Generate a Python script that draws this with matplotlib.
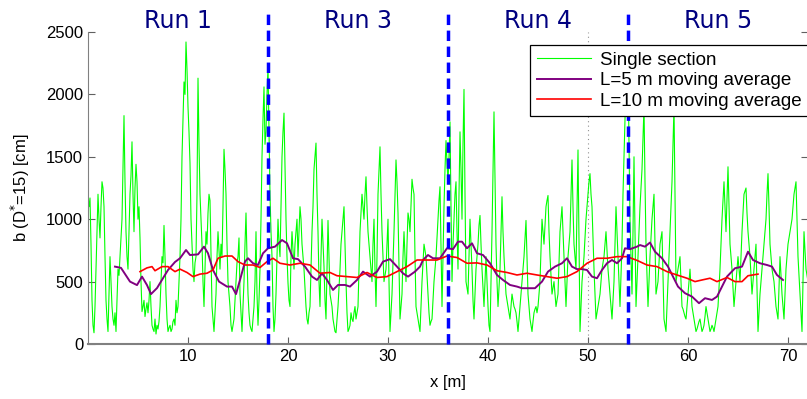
import numpy as np
import matplotlib
matplotlib.use("Agg")
import matplotlib.pyplot as plt

plt.rcParams['font.family'] = ['Liberation Sans', 'DejaVu Sans']

# single section width, read every 0.2 m from 0 to 72 m
b_single = [
    1150, 1170, 350, 90, 600,
    1200, 850, 1300, 1100, 350,
    100, 700, 300, 150, 100,
    600, 700, 1000, 1830, 900,
    600, 1200, 1620, 900, 1440,
    1000, 850, 260, 350, 280,
    250, 500, 150, 100, 80,
    120, 300, 700, 950, 400,
    100, 150, 120, 200, 350,
    300, 700, 1500, 2100, 2420,
    1900, 1450, 800, 500, 700,
    2130, 1200, 800, 300, 900,
    1050, 1150, 300, 100, 400,
    900, 600, 700, 1560, 1200,
    500, 300, 100, 200, 500,
    700, 400, 100, 500, 1050,
    400, 150, 100, 300, 900,
    150, 600, 1500, 2060, 1700,
    2220, 1200, 700, 100, 400,
    1000, 700, 1500, 1850, 1000,
    490, 300, 900, 600, 900,
    700, 1100, 800, 600, 300,
    160, 300, 900, 1400, 1610,
    900, 300, 1000, 620, 200,
    990, 400, 300, 150, 90,
    300, 600, 900, 1100, 500,
    100, 150, 200, 250, 200,
    300, 900, 1200, 1000, 1340,
    900, 700, 500, 1000, 300,
    1200, 1580, 900, 500, 600,
    1000, 100, 400, 900, 1475,
    1050, 200, 400, 900, 500,
    1050, 900, 1320, 1200, 300,
    200, 100, 500, 800, 700,
    400, 150, 200, 500, 700,
    1000, 1260, 300, 1100, 1630,
    1300, 1780, 500, 1000, 1300,
    600, 1700, 1000, 2040, 500,
    400, 1000, 600, 200, 600,
    800, 1030, 600, 300, 700,
    300, 100, 900, 1860, 800,
    300, 600, 1180, 700, 400,
    300, 200, 400, 300, 250,
    100, 300, 500, 700, 990,
    400, 200, 100, 250, 300,
    300, 500, 1000, 800, 1100,
    1190, 700, 400, 500, 300,
    400, 900, 1100, 700, 300,
    700, 900, 1475, 800, 600,
    1555, 100, 500, 700, 1000,
    1200, 1365, 1100, 600, 200,
    300, 400, 600, 700, 900,
    600, 400, 200, 500, 1100,
    700, 300, 800, 1500, 2100,
    2300, 1000, 400, 1500, 300,
    700, 1100, 1400, 1900, 800,
    300, 700, 1000, 1200, 400,
    500, 800, 900, 200, 100,
    500, 900, 1300, 1900, 500,
    600, 700, 300, 250, 200,
    400, 600, 300, 200, 100,
    150, 200, 100, 150, 300,
    200, 100, 150, 100, 200,
    300, 600, 1000, 1300, 900,
    1420, 800, 600, 300, 500,
    700, 500, 900, 1200, 1250,
    900, 700, 400, 600, 800,
    100, 400, 600, 800, 1000,
    1365, 800, 600, 500, 300,
    200, 700, 400, 200, 600,
    800, 900, 1000, 1200, 1300,
    700, 400, 100, 900, 600,
    500,
]

# values read in between, at 0.1, 0.3, 0.5, ... m
b_between = [
    1100, 800, 150, 300, 900,
    1000, 1100, 1250, 700, 200,
    400, 500, 200, 250, 350,
    550, 850, 1400, 1300, 700,
    900, 1350, 1200, 1250, 1300,
    1100, 500, 300, 220, 330,
    350, 300, 120, 200, 150,
    180, 500, 650, 700, 200,
    130, 100, 180, 150, 250,
    500, 1000, 1800, 2000, 2200,
    1700, 1000, 600, 650, 1200,
    1600, 1000, 500, 600, 800,
    1200, 700, 200, 250, 700,
    750, 800, 1100, 1400, 800,
    400, 150, 150, 350, 650,
    850, 250, 300, 800, 700,
    250, 120, 200, 500, 400,
    350, 1000, 1800, 1600, 2000,
    1700, 900, 300, 200, 700,
    800, 1100, 1700, 1400, 700,
    350, 700, 750, 800, 1000,
    900, 1000, 700, 450, 200,
    250, 600, 1100, 1500, 1200,
    500, 700, 800, 350, 600,
    700, 350, 200, 100, 200,
    450, 800, 1000, 800, 250,
    120, 250, 180, 300, 250,
    600, 1050, 1100, 1200, 1100,
    800, 600, 800, 600, 700,
    1400, 1200, 700, 550, 800,
    500, 250, 650, 1200, 1300,
    600, 300, 700, 700, 800,
    1000, 1100, 1250, 700, 250,
    150, 300, 650, 750, 550,
    250, 180, 350, 600, 850,
    1150, 800, 700, 1400, 1450,
    1500, 1100, 800, 1200, 900,
    1200, 1400, 1600, 1200, 450,
    700, 800, 350, 400, 700,
    950, 800, 450, 500, 500,
    150, 500, 1400, 1300, 500,
    450, 900, 900, 550, 350,
    250, 300, 350, 280, 180,
    200, 400, 600, 850, 700,
    300, 150, 180, 280, 250,
    400, 750, 900, 950, 1150,
    900, 550, 450, 400, 350,
    650, 1000, 900, 500, 500,
    800, 1200, 1100, 700, 1100,
    800, 300, 600, 850, 1100,
    1300, 1200, 850, 400, 250,
    350, 500, 650, 800, 750,
    500, 300, 350, 800, 900,
    500, 550, 1200, 1800, 2200,
    1600, 700, 900, 900, 500,
    900, 1250, 1650, 1300, 550,
    500, 850, 1100, 800, 450,
    650, 850, 550, 150, 300,
    700, 1100, 1600, 1200, 550,
    650, 500, 280, 220, 300,
    500, 450, 250, 150, 120,
    180, 150, 120, 220, 250,
    150, 120, 130, 150, 250,
    450, 800, 1150, 1100, 1150,
    1100, 700, 450, 400, 600,
    600, 700, 1050, 1225, 1050,
    800, 550, 500, 700, 450,
    250, 500, 700, 900, 1200,
    1100, 700, 550, 400, 250,
    450, 550, 300, 400, 700,
    850, 950, 1100, 1250, 1000,
    550, 250, 500, 750, 550,
]

# L=5 m moving average
x_avg5 = [2.7, 3.3, 4.2, 4.9, 5.4, 5.9, 6.3, 6.9, 7.5, 8.0, 8.7, 9.2, 9.8, 10.2,
          11.0, 11.6, 12.0, 12.5, 13.1, 13.9, 14.4, 14.8, 15.2, 15.7, 16.0, 16.5,
          17.0, 17.5, 18.0, 18.7, 19.4, 19.9, 20.5, 21.0, 21.7, 22.4, 22.9, 23.4,
          23.9, 24.5, 25.0, 25.7, 26.2, 26.9, 27.5, 28.2, 28.9, 29.5, 30.2, 30.9,
          31.5, 32.0, 32.7, 33.2, 33.5, 34.0, 34.5, 35.2, 35.9, 36.5, 37.0, 37.4,
          37.9, 38.4, 38.9, 39.5, 40.2, 40.9, 41.5, 42.2, 42.9, 43.4, 44.0, 44.7,
          45.4, 46.0, 46.7, 47.4, 47.9, 48.4, 48.9, 49.4, 49.9, 50.4, 50.9, 51.4,
          51.9, 52.4, 52.9, 53.4, 53.7, 54.2, 54.9, 55.2, 55.7, 56.2, 56.7, 57.4,
          58.0, 58.5, 59.0, 59.7, 60.4, 61.1, 61.7, 62.4, 62.9, 63.4, 63.9, 64.7,
          65.4, 66.0, 66.5, 67.2, 67.9, 68.4, 68.9, 69.5]
b_avg5 = [620, 610, 500, 472, 540, 472, 400, 448, 527, 593, 657, 687, 753, 713,
          718, 780, 727, 593, 500, 460, 460, 400, 513, 660, 687, 647,
          633, 727, 767, 780, 833, 807, 687, 680, 620, 540, 513, 566,
          513, 433, 473, 473, 460, 513, 580, 540, 580, 660, 680, 620,
          566, 540, 580, 620, 673, 713, 687, 687, 767, 760, 820, 820,
          767, 807, 727, 713, 647, 553, 513, 473, 460, 447, 447, 447,
          500, 580, 620, 647, 687, 620, 600, 600, 593, 540, 527, 593,
          647, 673, 647, 687, 767, 760, 780, 793, 780, 813, 740, 687,
          620, 540, 460, 407, 380, 327, 367, 353, 380, 460, 540, 607,
          620, 740, 673, 647, 633, 620, 553, 513]

# L=10 m moving average
x_avg10 = [5.2, 5.9, 6.4, 6.7, 7.4, 8.0, 8.7, 9.2, 9.9, 10.5, 11.2, 11.9, 12.5,
           13.0, 13.7, 14.4, 15.0, 15.7, 16.5, 17.2, 17.9, 18.5, 19.2, 20.2, 21.2,
           22.2, 23.2, 24.2, 24.9, 25.9, 26.9, 27.9, 28.9, 29.9, 30.9, 31.9, 32.9,
           33.9, 34.9, 35.9, 36.9, 37.9, 38.9, 39.9, 40.9, 41.9, 42.9, 43.9, 44.9,
           45.9, 46.9, 47.9, 48.9, 49.9, 50.9, 51.9, 52.9, 53.9, 54.9, 55.9, 56.9,
           57.9, 58.9, 59.9, 60.7, 61.4, 62.2, 62.9, 63.9, 64.7, 65.4, 66.0, 67.0]
b_avg10 = [580, 610, 620, 587, 620, 620, 580, 600, 573, 540, 560, 567, 593,
           687, 705, 705, 660, 633, 633, 613, 660, 687, 647, 633, 647,
           633, 567, 573, 547, 540, 533, 573, 533, 540, 580, 620, 673,
           673, 673, 705, 693, 647, 650, 633, 587, 573, 553, 567, 553,
           540, 527, 540, 580, 647, 687, 687, 700, 700, 670, 633, 620,
           580, 553, 527, 500, 513, 527, 500, 533, 500, 500, 547, 560]

run_edges = [18, 36, 54]
run_labels = ['Run 1', 'Run 3', 'Run 4', 'Run 5']
run_centres = [9, 27, 45, 63]

# merge the two readings into one 0.1 m series
b_green = np.empty(len(b_single) + len(b_between))
b_green[0::2] = b_single
b_green[1::2] = b_between
x_green = np.linspace(0, 72, len(b_green))

fig = plt.figure(figsize=(8.07, 3.99), dpi=100)
ax = fig.add_axes([88 / 807, 55 / 399, 720 / 807, 312 / 399])

ax.axvline(50, color='#909090', lw=0.8, ls=(0, (1, 3)), zorder=0)
ax.plot(x_green, b_green, color='#00ff00', lw=0.8, label='Single section')
ax.plot(x_avg5, b_avg5, color='#800080', lw=1.4, label='L=5 m moving average')
ax.plot(x_avg10, b_avg10, color='#ff0000', lw=1.2, label='L=10 m moving average')

for xe in run_edges:
    ax.plot([xe, xe], [0, 2660], color='#0000ff', lw=2.5, ls=(0, (3, 1.6)),
            clip_on=False, zorder=5)
for xc, lab in zip(run_centres, run_labels):
    ax.text(xc, 2590, lab, ha='center', va='center', fontsize=17,
            color='#000080', clip_on=False, family='DejaVu Sans')

ax.set_xlim(0, 72)
ax.set_ylim(0, 2500)
ax.set_xticks([10, 20, 30, 40, 50, 60, 70])
ax.set_yticks([0, 500, 1000, 1500, 2000, 2500])
ax.tick_params(direction='in', length=5, color='#606060', labelsize=12,
               right=True)
ax.spines['top'].set_visible(False)
for s in ['left', 'bottom', 'right']:
    ax.spines[s].set_color('#808080')
ax.spines['bottom'].set_linewidth(1.5)

ax.set_xlabel('x [m]', fontsize=12, labelpad=8)
ax.set_ylabel('b (D$^{*}$=15) [cm]', fontsize=12, labelpad=10)

leg = ax.legend(loc='upper right', bbox_to_anchor=(1.0, 0.958), borderaxespad=0,
                fontsize=13.5, fancybox=False, framealpha=1, edgecolor='black',
                labelspacing=0.18, handlelength=2.9, handletextpad=0.45,
                borderpad=0.35)
leg.get_frame().set_linewidth(0.9)
leg.set_zorder(10)

fig.savefig('out.png', dpi=100)
